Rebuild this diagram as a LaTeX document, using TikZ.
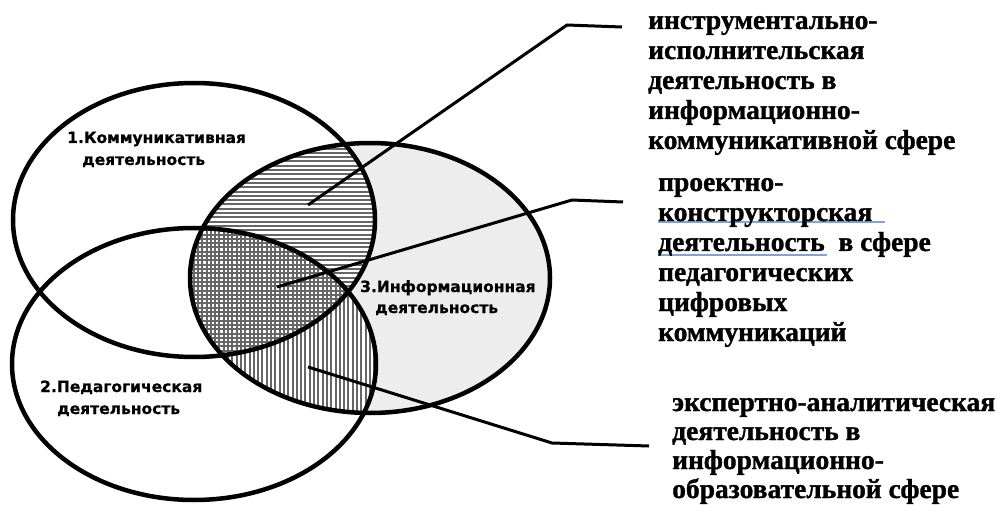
\documentclass[tikz,border=0pt]{standalone}
\usepackage{fontspec}
\setmainfont{Liberation Serif}[BoldFeatures={FakeBold=1.2}]
\newfontfamily\labfont{DejaVu Sans}[BoldFeatures={FakeBold=0.6}]
\begin{document}
\begin{tikzpicture}[x=1pt,y=-1pt,
  venn/.style={draw=black,line width=4.5pt},
  leader/.style={draw=black,line width=3pt,line join=round},
  hatchline/.style={draw=black!60,line width=2pt},
  inlabel/.style={anchor=base west,inner sep=0pt,font=\labfont\bfseries\fontsize{15.5}{18}\selectfont},
  rlabel/.style={anchor=base west,inner sep=0pt,font=\bfseries\fontsize{27.5}{30}\selectfont},
  spell/.style={draw={rgb,255:red,125;green,165;blue,215},line width=2pt}]
\useasboundingbox (0,0) rectangle (996,505);
\fill[white] (0,0) rectangle (996,505);
\def\EA{(194,220) ellipse [x radius=181,y radius=137]}
\def\EB{(194,364) ellipse [x radius=182,y radius=136]}
\def\EC{(370,278) ellipse [x radius=180,y radius=135]}
% region 3 light grey
\fill[black!7] \EC;
% 1 and 3: white background
\begin{scope}
  \clip \EA; \clip \EC;
  \fill[white] (0,0) rectangle (996,505);
\end{scope}
% 2 and 3: white + vertical lines
\begin{scope}
  \clip \EB; \clip \EC;
  \fill[white] (0,0) rectangle (996,505);
  \foreach \i in {0,...,90} { \draw[hatchline] ({185+4.3*\i},130) -- ({185+4.3*\i},420); }
\end{scope}
% 1 and 3: horizontal lines
\begin{scope}
  \clip \EA; \clip \EC;
  \foreach \i in {0,...,70} { \draw[hatchline] (180,{140+4.3*\i}) -- (560,{140+4.3*\i}); }
\end{scope}
% outlines
\draw[venn] \EA;
\draw[venn] \EB;
\draw[venn] \EC;
% leader lines
\coordinate (p1) at (308,205);
\coordinate (b1) at (567,25);
\coordinate (q1) at (622,27);
\coordinate (p2) at (277,287);
\coordinate (b2) at (572,200);
\coordinate (q2) at (623,202);
\coordinate (p3) at (308,367);
\coordinate (b3) at (552,443);
\coordinate (q3) at (649,446);
\draw[leader] (p1) -- (b1) -- (q1);
\draw[leader] (p2) -- (b2) -- (q2);
\draw[leader] (p3) -- (b3) -- (q3);
% inner labels
\node[inlabel] (l1a) at (67,143) {1.Коммуникативная};
\node[inlabel] (l1b) at (82,165) {деятельность};
\node[inlabel] (l2a) at (40,392) {2.Педагогическая};
\node[inlabel] (l2b) at (57,414) {деятельность};
\node[inlabel] (l3a) at (360,292) {3.Информационная};
\node[inlabel] (l3b) at (375,313) {деятельность};
% right text 1
\node[rlabel] (t1a) at (648,29) {инструментально-};
\node[rlabel] (t1b) at (648,59) {исполнительская};
\node[rlabel] (t1c) at (648,89) {деятельность в};
\node[rlabel] (t1d) at (648,119) {информационно-};
\node[rlabel] (t1e) at (648,149) {коммуникативной сфере};
% right text 2
\coordinate (u1a) at (658,222);
\coordinate (u1b) at (885,222);
\coordinate (u2a) at (658,255);
\coordinate (u2b) at (827,255);
\draw[spell] (u1a) -- (u1b);
\draw[spell] (u2a) -- (u2b);
\node[rlabel] (t2a) at (658,191) {проектно-};
\node[rlabel] (t2b) at (658,221) {конструкторская};
\node[rlabel] (t2c) at (658,251) {деятельность\ \ в сфере};
\node[rlabel] (t2d) at (658,281) {педагогических};
\node[rlabel] (t2e) at (658,311) {цифровых};
\node[rlabel] (t2f) at (658,341) {коммуникаций};
% right text 3
\node[rlabel] (t3a) at (672,411) {экспертно-аналитическая};
\node[rlabel] (t3b) at (672,440) {деятельность в};
\node[rlabel] (t3c) at (672,469) {информационно-};
\node[rlabel] (t3d) at (672,498) {образовательной сфере};
\end{tikzpicture}
\end{document}
